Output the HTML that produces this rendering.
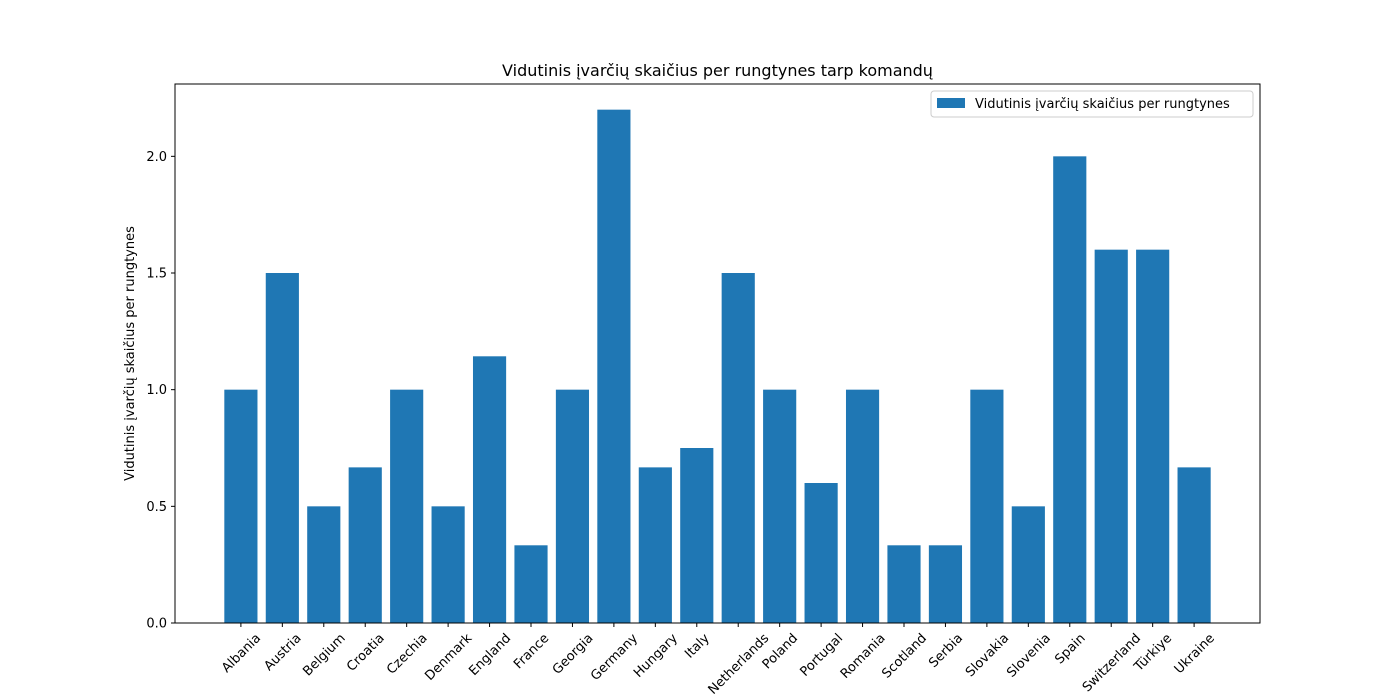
<!DOCTYPE html>
<html><head><meta charset="utf-8"><style>body{margin:0;background:#fff}svg{display:block;font-family:"DejaVu Sans","Liberation Sans",sans-serif}</style></head>
<body>
<svg id="chart" width="1400" height="700"></svg>
<script>
const categories=["Albania","Austria","Belgium","Croatia","Czechia","Denmark","England","France","Georgia","Germany","Hungary","Italy","Netherlands","Poland","Portugal","Romania","Scotland","Serbia","Slovakia","Slovenia","Spain","Switzerland","Türkiye","Ukraine"];
const values=[1,1.5,0.5,0.667,1,0.5,1.143,0.333,1,2.2,0.667,0.75,1.5,1,0.6,1,0.333,0.333,1,0.5,2,1.6,1.6,0.667];
const yTicks=[0,0.5,1,1.5,2];
const yTickLabels=["0.0","0.5","1.0","1.5","2.0"];
const NS="http://www.w3.org/2000/svg";
const svg=document.getElementById('chart');
const L=175,R=1260,T=84,B=623;
const n=categories.length;
const xmin=-0.4-0.05*(n-0.2), xmax=n-1+0.4+0.05*(n-0.2);
const ymax=Math.max(...values)*1.05;
const x=v=>L+(v-xmin)/(xmax-xmin)*(R-L);
const y=v=>B-v/ymax*(B-T);
function mk(tag,a,txt){const e=document.createElementNS(NS,tag);for(const k in a)e.setAttribute(k,a[k]);if(txt!==undefined)e.textContent=txt;svg.appendChild(e);return e;}
values.forEach((v,i)=>{
 const r=mk('rect',{x:x(i-0.4),y:y(v),width:x(i+0.4)-x(i-0.4),height:B-y(v),fill:'#1f77b4'});
 
 
 const t=mk('line',{x1:x(i),x2:x(i),y1:B,y2:B+4,stroke:'#000'});
 
 
 const l=mk('text',{x:0,y:0,'font-size':13,'text-anchor':'middle'},categories[i]);
 const w=l.getComputedTextLength();
 const cy=B+8+(w*0.7071+13*0.7071)/2;
 l.setAttribute('x',x(i));
 l.setAttribute('y',cy+4.5);
 l.setAttribute('transform',`rotate(-45 ${x(i)} ${cy})`);
 
 
});
yTicks.forEach((v,i)=>{
 const t=mk('line',{x1:L-4,x2:L,y1:y(v),y2:y(v),stroke:'#000'});
 
 
 const l=mk('text',{x:L-8,y:y(v)+4.5,'font-size':13,'text-anchor':'end'},yTickLabels[i]);
 
 
});
const f=mk('rect',{x:L,y:T,width:R-L,height:B-T,fill:'none',stroke:'#000','stroke-width':1});


const ti=mk('text',{x:(L+R)/2,y:76,'font-size':16,'text-anchor':'middle'},'Vidutinis įvarčių skaičius per rungtynes tarp komandų');


const yl=mk('text',{x:134,y:(T+B)/2,'font-size':13,'text-anchor':'middle',transform:`rotate(-90 134 ${(T+B)/2})`},'Vidutinis įvarčių skaičius per rungtynes');


const lg=mk('rect',{x:931,y:91,width:322,height:26,fill:'#fff',stroke:'#ccc',rx:3});


const ls=mk('rect',{x:937,y:98,width:28,height:10,fill:'#1f77b4'});


const lt=mk('text',{x:975,y:108,'font-size':13},'Vidutinis įvarčių skaičius per rungtynes');


</script>
</body></html>
